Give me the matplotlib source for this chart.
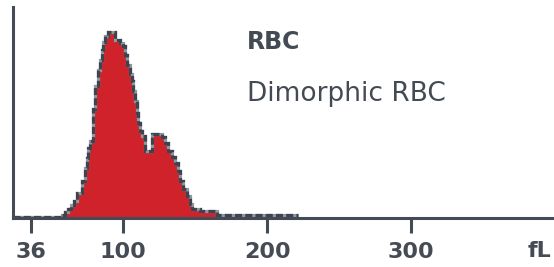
import numpy as np
import matplotlib.pyplot as plt

# histogram steps: bin edges in fL and bin heights (arbitrary counts)
edges = [23.6, 57.6, 60, 62, 64, 66, 68.1, 71.5, 73.6, 75, 75.7, 77.1, 79, 80.6,
         82.6, 84, 85.4, 86.1, 87.5, 89.6, 94.4, 97.9, 100, 101.4, 102.8, 104.9,
         106.3, 107, 108.3, 109.7, 110.4, 111.8, 113.2, 115.3, 120.1, 127.1, 129.2,
         131.3, 134, 136.1, 138.2, 139.6, 141.7, 144.4, 146.5, 147.9, 153.5, 165.3,
         221.5]
counts = [1.5, 3, 6, 9, 13, 17, 25, 37, 50, 60, 70, 77, 109, 132,
          147, 157, 167, 175, 181, 185, 177, 174, 171, 162, 152,
          144, 137, 127, 117, 105, 95, 87, 82, 67, 84, 81,
          75, 67, 61, 55, 47, 37, 29, 22, 14, 9.5, 7, 3.5]

tick_vals = [36, 100, 200, 300]
tick_labels = ['36', '100', '200', '300']
title = 'RBC'
subtitle = 'Dimorphic RBC'
unit = 'fL'

axis_col = '#454b55'
red = '#d0222a'

fig = plt.figure(figsize=(5.54, 2.67), dpi=100)
ax = fig.add_axes([0.0235, 0.183, 0.9765, 0.79])

ax.stairs(counts, edges, fill=True, color=red, baseline=0, zorder=2)
ax.stairs(counts, edges, color='#8e989f', linewidth=2.3, baseline=None, zorder=3)
ax.stairs(counts, edges, color='#3d4450', linewidth=2.3, baseline=None,
          linestyle=(0, (2.2, 1.0)), zorder=4)

ax.set_xlim(23.6, 399)
ax.set_ylim(0, 210)

for s in ['top', 'right']:
    ax.spines[s].set_visible(False)
for s in ['left', 'bottom']:
    ax.spines[s].set_linewidth(2.2)
    ax.spines[s].set_color(axis_col)
    ax.spines[s].set_zorder(5)

ax.set_yticks([])
ax.set_xticks(tick_vals)
ax.set_xticklabels(tick_labels, fontsize=16, fontweight='bold', color=axis_col)
ax.tick_params(axis='x', direction='out', length=11, width=2.2, color=axis_col, pad=6)

ax.text(0.995, -0.155, unit, transform=ax.transAxes, ha='right', va='center',
        fontsize=16, fontweight='bold', color=axis_col)

fig.text(247 / 554, 1 - 42 / 267, title, ha='left', va='center',
         fontsize=17, fontweight='bold', color='#444a54')
fig.text(247 / 554, 1 - 101 / 267, subtitle, ha='left', va='baseline',
         fontsize=19, color='#444a54')

fig.savefig('out.png', dpi=100)
